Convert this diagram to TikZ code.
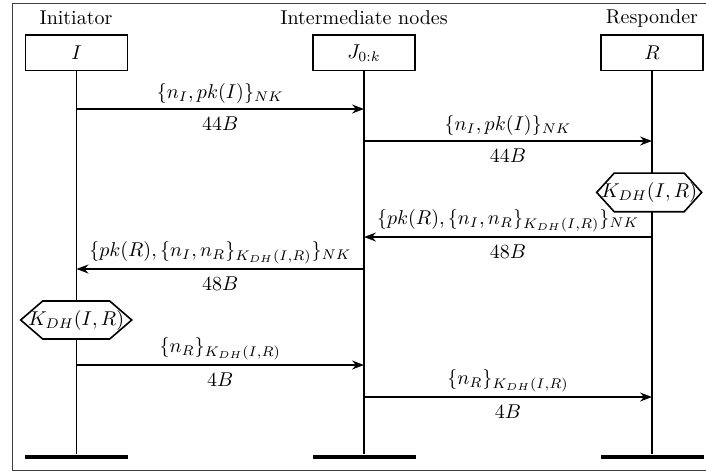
\documentclass[tikz,border=0pt]{standalone}
\usetikzlibrary{arrows.meta,calc}
\begin{document}
\begin{tikzpicture}[x=0.5pt,y=-0.5pt,
  actor/.style={draw,line width=0.8pt,minimum width=51pt,minimum height=17.75pt,inner sep=0pt,fill=white},
  hdr/.style={inner sep=0pt},
  bar/.style={fill=black,minimum width=51.5pt,minimum height=2.2pt,inner sep=0pt},
  life/.style={line width=0.8pt},
  msg/.style={line width=0.8pt,-{Stealth[length=6pt,width=4.5pt,inset=2pt]}},
  hexlabel/.style={inner sep=0pt},
  hexline/.style={line width=0.8pt,fill=white}
]
\useasboundingbox (0,0) rectangle (706,472);
\draw[line width=0.8pt,black!75] (12.5,3.5) rectangle (708,470.5);

% headers
\node[hdr] (hI) at (76,18) {Initiator};
\node[hdr] (hJ) at (364,18) {Intermediate nodes};
\node[hdr] (hR) at (652,18) {Responder};

% actors
\node[actor] (I) at (76.5,52.75) {$I$};
\node[actor] (J) at (364,52.75) {$J_{0:k}$};
\node[actor] (R) at (652,52.75) {$R$};

% bars
\node[bar] (Ib) at (76.5,456.7) {};
\node[bar] (Jb) at (364,456.7) {};
\node[bar] (Rb) at (652,456.7) {};

% lifelines
\draw[life] (I) -- (Ib);
\draw[life] (J) -- (Jb);
\draw[life] (R) -- (Rb);

% rows
\coordinate (y1) at (0,109);
\coordinate (y2) at (0,141);
\coordinate (y4) at (0,237);
\coordinate (y5) at (0,269);
\coordinate (y7) at (0,365);
\coordinate (y8) at (0,397);

\draw[msg] (I |- y1) -- (J |- y1)
  node[midway,above,yshift=-1pt] {$\{n_I,pk(I)\}_{NK}$}
  node[midway,below] {$44B$};
\draw[msg] (J |- y2) -- (R |- y2)
  node[midway,above,yshift=-1pt] {$\{n_I,pk(I)\}_{NK}$}
  node[midway,below] {$44B$};

% hexagon at R
\coordinate (hexRc) at (649.2,192.4);
\draw[hexline] ([shift={(-52.5,0)}]hexRc) -- ++(17.5,-19.3) -- ++(70,0) -- ++(17.5,19.3) -- ++(-17.5,19.3) -- ++(-70,0) -- cycle;
\node[hexlabel] (hexR) at (hexRc) {$K_{DH}(I,R)$};

\draw[msg] (R |- y4) -- (J |- y4)
  node[midway,above,yshift=-1pt] {$\{pk(R),\{n_I,n_R\}_{K_{DH}(I,R)}\}_{NK}$}
  node[midway,below] {$48B$};
\draw[msg] (J |- y5) -- (I |- y5)
  node[midway,above,yshift=-1pt] {$\{pk(R),\{n_I,n_R\}_{K_{DH}(I,R)}\}_{NK}$}
  node[midway,below] {$48B$};

% hexagon at I
\coordinate (hexIc) at (76.2,320);
\draw[hexline] ([shift={(-55.5,0)}]hexIc) -- ++(22,-19) -- ++(67,0) -- ++(22,19) -- ++(-22,19) -- ++(-67,0) -- cycle;
\node[hexlabel] (hexI) at (hexIc) {$K_{DH}(I,R)$};

\draw[msg] (I |- y7) -- (J |- y7)
  node[midway,above,yshift=-1pt] {$\{n_R\}_{K_{DH}(I,R)}$}
  node[midway,below] {$4B$};
\draw[msg] (J |- y8) -- (R |- y8)
  node[midway,above,yshift=-1pt] {$\{n_R\}_{K_{DH}(I,R)}$}
  node[midway,below] {$4B$};
\end{tikzpicture}
\end{document}
